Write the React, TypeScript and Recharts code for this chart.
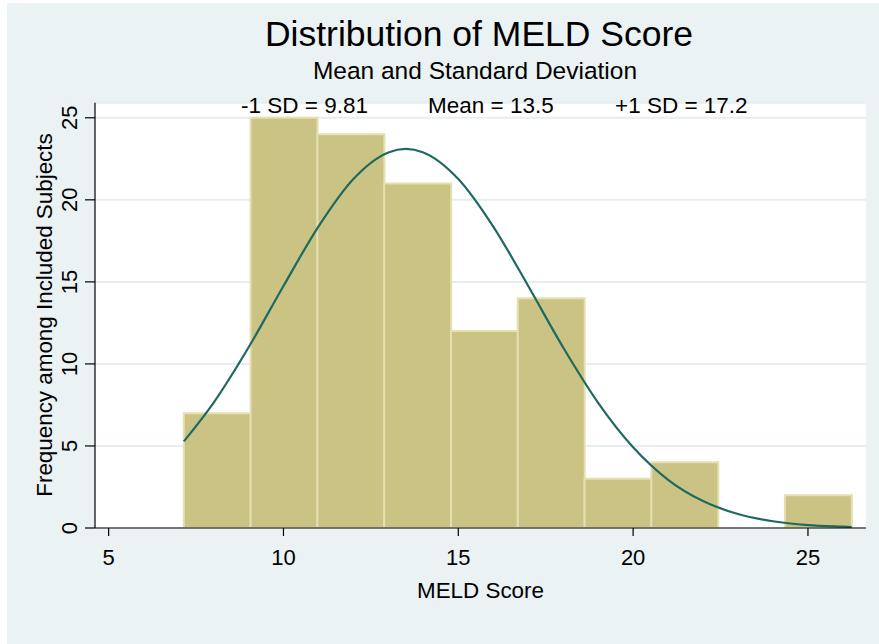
import React from 'react';
import { ComposedChart, Bar, Line, XAxis, YAxis, CartesianGrid } from 'recharts';

// Histogram bins (MELD Score)
const binLower = [7.15, 9.06, 10.97, 12.88, 14.79, 16.7, 18.61, 20.52, 22.43, 24.34];
const binWidth = 1.91;
const binCounts = [7, 25, 24, 21, 12, 14, 3, 4, 0, 2];

// Normal density overlay (scaled to frequency)
const curveX = [7.15, 8, 9, 10, 11, 12, 13, 13.5, 14, 15, 16, 17, 18, 19, 20, 21, 22, 23, 24, 25, 26, 26.25];
const curveY = [5.28, 7.63, 11.0, 14.75, 18.37, 21.27, 22.89, 23.1, 22.89, 21.27, 18.37, 14.75, 11.0, 7.63, 4.92, 2.94, 1.64, 0.85, 0.41, 0.18, 0.08, 0.06];

const xTicks = [5, 10, 15, 20, 25];
const yTicks = [0, 5, 10, 15, 20, 25];

const titleText = 'Distribution of MELD Score';
const subtitleText = 'Mean and Standard Deviation';
const statLabels = ['-1 SD = 9.81', 'Mean = 13.5', '+1 SD = 17.2'];
const xTitle = 'MELD Score';
const yTitle = 'Frequency among Included Subjects';

const binData = binLower.map((lo, i) => ({ x: lo + binWidth / 2, count: binCounts[i] }));
const curveData = curveX.map((x, i) => ({ x, y: curveY[i] }));

const FONT = '"Liberation Sans", Arial, Helvetica, sans-serif';

const YTick = (props: any) => {
  const { x, y, payload } = props;
  return (
    <text x={x} y={y} transform={`rotate(-90, ${x}, ${y})`} textAnchor="middle" fontSize={22} fill="#000" fontFamily={FONT}>
      {payload.value}
    </text>
  );
};

export default function App() {
  return (
    <div style={{ position: 'absolute', left: 0, top: 0, width: 879, height: 644, background: '#fff', fontFamily: FONT }}>
      <div style={{ position: 'absolute', left: 7, top: 3, right: 0, bottom: 0, background: '#EAF2F3' }} />
      <div style={{ position: 'absolute', left: 0, top: 0 }}>
        <ComposedChart
          width={879}
          height={644}
          data={binData}
          margin={{ top: 102.7, right: 13, left: 0, bottom: 0 }}
          barCategoryGap={0}
          barGap={0}
        >
          <CartesianGrid vertical={false} fill="#ffffff" stroke="#E6EEF0" strokeWidth={2} />
          <XAxis
            xAxisId="curve"
            dataKey="x"
            type="number"
            domain={[4.61, 26.66]}
            allowDataOverflow
            ticks={xTicks}
            height={116}
            tickSize={8}
            tickMargin={13}
            axisLine={{ stroke: '#000', strokeWidth: 1.2 }}
            tickLine={{ stroke: '#000', strokeWidth: 1.2 }}
            tick={{ fontSize: 22, fill: '#000', fontFamily: FONT }}
          />
          <XAxis xAxisId="bins" dataKey="x" type="number" domain={[4.61, 26.66]} allowDataOverflow hide height={0} />
          <YAxis
            type="number"
            domain={[0, 25.92]}
            allowDataOverflow
            ticks={yTicks}
            width={95}
            tickSize={10}
            tickMargin={8}
            axisLine={{ stroke: '#000', strokeWidth: 1.2 }}
            tickLine={{ stroke: '#000', strokeWidth: 1.2 }}
            tick={<YTick />}
          />
          <Bar
            xAxisId="bins"
            dataKey="count"
            fill="#CBC383"
            stroke="#E4E0B0"
            strokeWidth={2}
            isAnimationActive={false}
          />
          <Line
            xAxisId="curve"
            data={curveData}
            dataKey="y"
            type="monotone"
            stroke="#1E6A61"
            strokeWidth={2.2}
            dot={false}
            activeDot={false}
            isAnimationActive={false}
          />
        </ComposedChart>
      </div>
      <svg width={879} height={644} style={{ position: 'absolute', left: 0, top: 0, pointerEvents: 'none' }}>
        <text x={479} y={46} textAnchor="middle" fontSize={35.5} fill="#000" fontFamily={FONT}>{titleText}</text>
        <text x={475} y={79} textAnchor="middle" fontSize={24.5} fill="#000" fontFamily={FONT}>{subtitleText}</text>
        <text x={241} y={113} textAnchor="start" fontSize={22.5} fill="#000" fontFamily={FONT}>{statLabels[0]}</text>
        <text x={428} y={113} textAnchor="start" fontSize={22.5} fill="#000" fontFamily={FONT}>{statLabels[1]}</text>
        <text x={615} y={113} textAnchor="start" fontSize={22.5} fill="#000" fontFamily={FONT}>{statLabels[2]}</text>
        <text x={480.5} y={598} textAnchor="middle" fontSize={22.4} fill="#000" fontFamily={FONT}>{xTitle}</text>
        <text x={52} y={315} transform="rotate(-90, 52, 315)" textAnchor="middle" fontSize={22.4} fill="#000" fontFamily={FONT}>{yTitle}</text>
      </svg>
    </div>
  );
}
